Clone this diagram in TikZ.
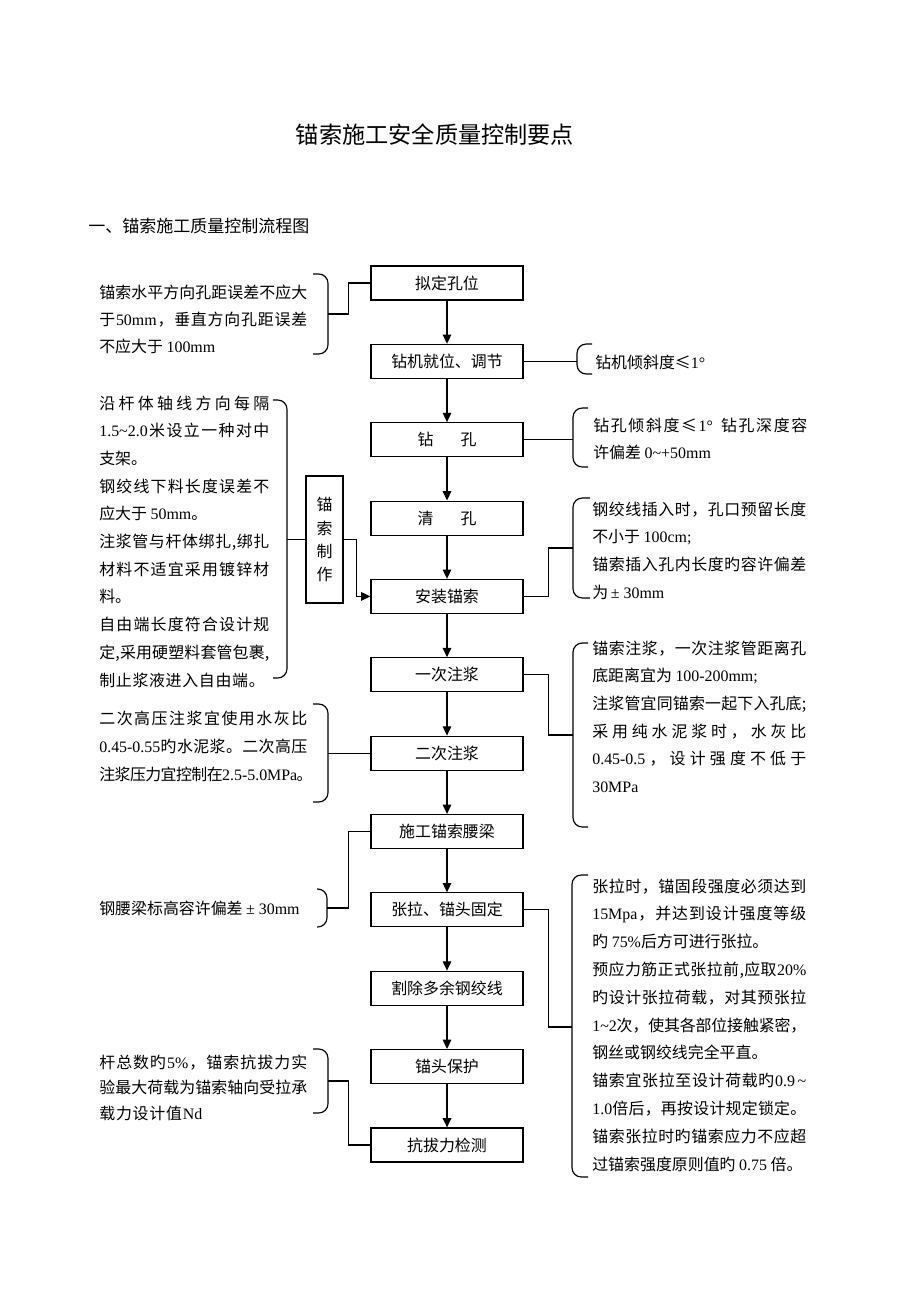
\documentclass[tikz,border=0pt]{standalone}
\usepackage{fontspec}
\setmainfont{Noto Sans CJK SC}
\newfontfamily\en{Liberation Serif}
\usetikzlibrary{arrows.meta}
\newcommand\tild{\textasciitilde}
\newcommand\bodyf{\fontsize{10.3pt}{12pt}\selectfont}
\makeatletter
\def\spreadend{SPREADEND}
\def\spsep{\hspace{0pt plus 1fil minus 1fil}}
\def\spreadloop#1{\ifx\spreadend#1\else\spsep{#1}\expandafter\spreadloop\fi}
\def\spreadstart#1{{#1}\spreadloop}
\newcommand\spread[2]{\makebox[#1][s]{\spreadstart#2\spreadend}}
\makeatother
\newcommand\notelines[5]{%
  \foreach \tx [count=\ii] in {#5} {\node[notetext] (#1-\ii) at (#2,{#3+(\ii-1)*#4}) {\tx};}}
\newcommand\brk[4]{\draw[brace] (#1,#3) -- (#2,#3) -- (#2,#4) -- (#1,#4);}
\begin{document}
\begin{tikzpicture}[x=0.6468pt,y=-0.6468pt,
  box/.style={draw,line width=0.75pt,minimum width=98.3pt,minimum height=22pt,inner sep=0pt,
    text height=9.06pt,text depth=1.24pt,font=\bodyf},
  notetext/.style={inner sep=0pt,anchor=west,text height=9.06pt,text depth=1.24pt,font=\bodyf},
  conn/.style={line width=0.75pt},
  arr/.style={conn,-{Triangle[width=5.5pt,length=6pt]}},
  brace/.style={line width=0.75pt,rounded corners=6pt}]
\useasboundingbox (0,0) rectangle (920,1302);
\fill[white] (0,0) rectangle (920,1302);

% titles
\node[inner sep=0pt,font=\fontsize{15pt}{18pt}\selectfont] (title) at (435,135) {锚索施工安全质量控制要点};
\node[anchor=west,inner sep=0pt,font=\fontsize{11pt}{13pt}\selectfont] (sub) at (88,226) {一、锚索施工质量控制流程图};

% main boxes
\node[box] (b1) at (447,283) {拟定孔位};
\node[box] (b2) at (447,361.4) {钻机就位、调节};
\node[box] (b3) at (447,439.7) {钻\hspace{1.7em}孔};
\node[box] (b4) at (447,518.1) {清\hspace{1.7em}孔};
\node[box] (b5) at (447,596.4) {安装锚索};
\node[box] (b6) at (447,674.8) {一次注浆};
\node[box] (b7) at (447,753.2) {二次注浆};
\node[box] (b8) at (447,831.5) {施工锚索腰梁};
\node[box] (b9) at (447,909.9) {张拉、锚头固定};
\node[box] (b10) at (447,988.2) {割除多余钢绞线};
\node[box] (b11) at (447,1066.6) {锚头保护};
\node[box] (b12) at (447,1145) {抗拔力检测};

\foreach \a/\b in {b1/b2,b2/b3,b3/b4,b4/b5,b5/b6,b6/b7,b7/b8,b8/b9,b9/b10,b10/b11,b11/b12}
  \draw[arr] (\a) -- (\b);

% vertical box
\node[draw,line width=0.75pt,minimum width=23.9pt,minimum height=82.1pt,inner sep=0pt,align=center,
  font=\fontsize{10.3pt}{14.9pt}\selectfont] (v) at (324.5,539.5) {锚\\索\\制\\作};
\draw[arr] (v.east) -- ++(13,0) |- (b5.west);

% brace mid points
\coordinate (mL1) at (328,314);
\coordinate (mL3) at (287,539.5);
\coordinate (mL7) at (328,753.2);
\coordinate (mL8) at (327,908);
\coordinate (mL11) at (328,1081);
\coordinate (mR2) at (577,361.4);
\coordinate (mR3) at (573,439.7);
\coordinate (mR4) at (573,548);
\coordinate (mR5) at (573,735);
\coordinate (mR9) at (572,1027);

% braces
\brk{313}{328}{274}{354}
\brk{273}{287}{400}{678}
\brk{313}{328}{704}{802}
\brk{317}{327}{889}{927}
\brk{313}{328}{1049}{1113}
\brk{592}{577}{344}{374}
\brk{588}{573}{408}{467}
\brk{590}{573}{498}{598}
\brk{588}{573}{643}{827}
\brk{588}{572}{875}{1177}

% connectors
\draw[conn] (b1.west) -- ++(-22,0) |- (mL1);
\draw[conn] (mL3) -- (v.west);
\draw[conn] (mL7) -- (b7.west);
\draw[conn] (b8.west) -- ++(-22,0) |- (mL8);
\draw[conn] (b12.west) -- ++(-22,0) |- (mL11);
\draw[conn] (b2.east) -- (mR2);
\draw[conn] (b3.east) -- (mR3);
\draw[conn] (b5.east) -- ++(25,0) |- (mR4);
\draw[conn] (b6.east) -- ++(25,0) |- (mR5);
\draw[conn] (b9.east) -- ++(25,0) |- (mR9);

% notes left
\notelines{n1}{99}{292}{27}{
  {\spread{134.5pt}{锚索水平方向孔距误差不应大}},
  {\spread{134.5pt}{于{\en 50mm}，垂直方向孔距误差}},
  {不应大于 {\en 100mm}}}
\notelines{n3}{99}{403}{27.7}{
  {\spread{110pt}{沿杆体轴线方向每隔}},
  {\spread{110pt}{{\en 1.5\tild 2.0}米设立一种对中}},
  {支架。},
  {\spread{110pt}{钢绞线下料长度误差不}},
  {应大于 {\en 50mm}。},
  {\spread{110pt}{注浆管与杆体绑扎,绑扎}},
  {\spread{110pt}{材料不适宜采用镀锌材}},
  {料。},
  {\spread{110pt}{自由端长度符合设计规}},
  {\spread{110pt}{定,采用硬塑料套管包裹,}},
  {\spread{107pt}{制止浆液进入自由端。}}}
\notelines{n7}{99}{718}{28}{
  {\spread{134.5pt}{二次高压注浆宜使用水灰比}},
  {\spread{134.5pt}{{\en 0.45-0.55}旳水泥浆。二次高压}},
  {\spread{138pt}{注浆压力宜控制在{\en 2.5-5.0MPa}。}}}
\node[notetext] (n8) at (99,908) {钢腰梁标高容许偏差 {\en ± 30mm}};
\notelines{n11}{99}{1062}{25.5}{
  {\spread{134.5pt}{杆总数旳{\en 5\%}，锚索抗拔力实}},
  {\spread{134.5pt}{验最大荷载为锚索轴向受拉承}},
  {\spread{66.6pt}{载力设计值{\en Nd}}}}

% notes right
\node[notetext] (r2) at (595,362) {钻机倾斜度≤{\en 1°}};
\notelines{r3}{593}{425}{27.5}{
  {\spread{138.4pt}{钻孔倾斜度≤{\en 1°\hspace{0.4em}}钻孔深度容}},
  {许偏差 {\en 0\tild +50mm}}}
\notelines{r4}{592}{509}{27.7}{
  {\spread{138.4pt}{钢绞线插入时，孔口预留长度}},
  {不小于 {\en 100cm;}},
  {\spread{138.4pt}{锚索插入孔内长度旳容许偏差}},
  {为{\en\,± 30mm}}}
\notelines{r5}{592}{648}{27.7}{
  {\spread{138.4pt}{锚索注浆，一次注浆管距离孔}},
  {底距离宜为 {\en 100-200mm;}},
  {\spread{138.4pt}{注浆管宜同锚索一起下入孔底;}},
  {\spread{138.4pt}{采用纯水泥浆时，水灰比}},
  {\spread{138.4pt}{{\en 0.45-0.5}，设计强度不低于}},
  {{\en 30MPa}}}
\notelines{r9}{592}{886}{27.8}{
  {\spread{138.4pt}{张拉时，锚固段强度必须达到}},
  {\spread{138.4pt}{{\en 15Mpa}，并达到设计强度等级}},
  {旳 {\en 75\%}后方可进行张拉。},
  {\spread{138.4pt}{预应力筋正式张拉前,应取{\en 20\%}}},
  {\spread{138.4pt}{旳设计张拉荷载，对其预张拉}},
  {\spread{138.4pt}{{\en 1\tild 2}次，使其各部位接触紧密，}},
  {钢丝或钢绞线完全平直。},
  {\spread{138.4pt}{锚索宜张拉至设计荷载旳{\en 0.9\,\tild}}},
  {\spread{138.4pt}{{\en 1.0}倍后，再按设计规定锁定。}},
  {\spread{138.4pt}{锚索张拉时旳锚索应力不应超}},
  {过锚索强度原则值旳 {\en 0.75} 倍。}}
\end{tikzpicture}
\end{document}
